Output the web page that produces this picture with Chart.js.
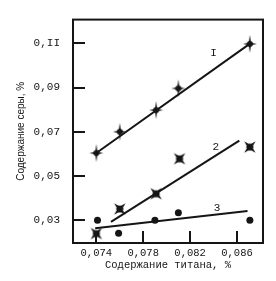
<!DOCTYPE html>
<html>
<head>
<meta charset="utf-8">
<script src="https://cdn.jsdelivr.net/npm/chart.js@4.4.0/dist/chart.umd.min.js"></script>
<style>
  html, body { margin: 0; padding: 0; background: #fff; }
  #wrap { width: 276px; height: 281px; }
</style>
</head>
<body>
<div id="wrap"><canvas id="chart" width="276" height="281"></canvas></div>
<script>
// titanium content (x) and sulfur content (y)
const xTicks = [0.074, 0.078, 0.082, 0.086];
const yTicks = [0.03, 0.05, 0.07, 0.09, 0.11];
const yTickLabels = ['0,03', '0,05', '0,07', '0,09', '0,II'];
const xTickLabels = ['0,074', '0,078', '0,082', '0,086'];

const x1 = [0.074, 0.0760, 0.0791, 0.0810, 0.0871];
const y1 = [0.0604, 0.0700, 0.0798, 0.0896, 0.1097];
const x2 = [0.0740, 0.0760, 0.0791, 0.0811, 0.0871];
const y2 = [0.0240, 0.0351, 0.0420, 0.0578, 0.0631];
const x3 = [0.0741, 0.0759, 0.0790, 0.0810, 0.0871];
const y3 = [0.0300, 0.0241, 0.0300, 0.0334, 0.0300];

// fitted lines (start / end)
const line1X = [0.0740, 0.0872];
const line1Y = [0.0604, 0.1102];
const line2X = [0.07525, 0.0862];
const line2Y = [0.0293, 0.0660];
const line3X = [0.0739, 0.0869];
const line3Y = [0.0264, 0.0342];

// curve numbers
const curveLabels = ['I', '2', '3'];
const labelX = [0.0840, 0.0842, 0.0843];
const labelY = [0.1057, 0.0630, 0.0356];

const ink = '#151515';
const mono = "'Liberation Mono', 'DejaVu Sans Mono', monospace";

function pts(xs, ys) {
    return xs.map((x, i) => ({ x: x, y: ys[i] }));
}

// marker with 4 spikes; rot = 0 gives "+" shape, rot = 45 gives "x" shape
function starMarker(armV, armH, inner, dot, rot) {
    const size = 24;
    const c = document.createElement('canvas');
    c.width = size; c.height = size;
    const g = c.getContext('2d');
    g.translate(size / 2, size / 2);
    g.rotate(rot * Math.PI / 180);
    g.fillStyle = ink;
    g.beginPath();
    const outer = [[0, -armV], [armH, 0], [0, armV], [-armH, 0]];
    for (let i = 0; i < 4; i++) {
        const a = (i * 90 + 45) * Math.PI / 180;
        g.lineTo(outer[i][0], outer[i][1]);
        g.lineTo(Math.sin(a) * inner, -Math.cos(a) * inner);
    }
    g.closePath();
    g.fill();
    g.beginPath();
    g.arc(0, 0, dot, 0, Math.PI * 2);
    g.fill();
    return c;
}

const marker1 = starMarker(9, 7, 1.6, 3, 0);
const marker2 = starMarker(8, 8, 2.4, 3.4, 45);

// frame, inward ticks and curve numbers
const framePlugin = {
    id: 'frame',
    afterDraw(chart) {
        const { ctx, chartArea: a, scales } = chart;
        ctx.save();
        ctx.strokeStyle = ink;
        ctx.lineWidth = 2;
        ctx.strokeRect(a.left, a.top, a.right - a.left, a.bottom - a.top);
        ctx.beginPath();
        scales.y.ticks.forEach(t => {
            const py = Math.round(scales.y.getPixelForValue(t.value));
            ctx.moveTo(a.left, py);
            ctx.lineTo(a.left + 12, py);
        });
        scales.x.ticks.forEach(t => {
            const px = Math.round(scales.x.getPixelForValue(t.value));
            ctx.moveTo(px, a.bottom);
            ctx.lineTo(px, a.bottom - 12);
        });
        ctx.stroke();
        ctx.fillStyle = ink;
        ctx.font = '11px ' + mono;
        ctx.textAlign = 'center';
        ctx.textBaseline = 'middle';
        curveLabels.forEach((txt, i) => {
            ctx.fillText(txt, scales.x.getPixelForValue(labelX[i]), scales.y.getPixelForValue(labelY[i]));
        });
        ctx.restore();
    }
};

const lineStyle = {
    type: 'line',
    borderColor: ink,
    borderWidth: 2,
    pointRadius: 0,
    fill: false
};

new Chart(document.getElementById('chart'), {
    type: 'scatter',
    data: {
        datasets: [
            Object.assign({ data: pts(line1X, line1Y) }, lineStyle),
            Object.assign({ data: pts(line2X, line2Y) }, lineStyle),
            Object.assign({ data: pts(line3X, line3Y) }, lineStyle),
            { data: pts(x1, y1), pointStyle: marker1, backgroundColor: ink },
            { data: pts(x2, y2), pointStyle: marker2, backgroundColor: ink },
            { data: pts(x3, y3), pointStyle: 'circle', pointRadius: 3.5, backgroundColor: ink, borderColor: ink, borderWidth: 0 }
        ]
    },
    options: {
        responsive: false,
        animation: false,
        layout: { padding: { left: 0, top: 7, right: 13, bottom: 0 } },
        plugins: {
            legend: { display: false },
            tooltip: { enabled: false }
        },
        scales: {
            x: {
                type: 'linear',
                min: 0.07201,
                max: 0.08822,
                afterFit: s => { s.height = 38; },
                afterBuildTicks: s => { s.ticks = xTicks.map(v => ({ value: v })); },
                grid: { display: false, drawTicks: false },
                border: { display: false },
                ticks: {
                    color: ink,
                    padding: 4,
                    maxRotation: 0,
                    font: { family: mono, size: 10.5 },
                    callback: (v) => xTickLabels[xTicks.findIndex(t => Math.abs(t - v) < 1e-6)]
                },
                title: {
                    display: true,
                    text: 'Содержание титана, %',
                    color: ink,
                    font: { family: mono, size: 10.5 },
                    padding: { top: 0, bottom: 9 }
                }
            },
            y: {
                type: 'linear',
                min: 0.01972,
                max: 0.1207,
                afterFit: s => { s.width = 73; },
                afterBuildTicks: s => { s.ticks = yTicks.map(v => ({ value: v })); },
                grid: { display: false, drawTicks: false },
                border: { display: false },
                ticks: {
                    color: ink,
                    padding: 13,
                    font: { family: mono, size: 11 },
                    callback: (v) => yTickLabels[yTicks.findIndex(t => Math.abs(t - v) < 1e-6)]
                },
                title: {
                    display: true,
                    text: 'Содержание серы, %',
                    color: ink,
                    font: { family: "'Liberation Sans', sans-serif", size: 10 },
                    padding: { top: 15, bottom: 0 }
                }
            }
        }
    },
    plugins: [framePlugin]
});
</script>
</body>
</html>
